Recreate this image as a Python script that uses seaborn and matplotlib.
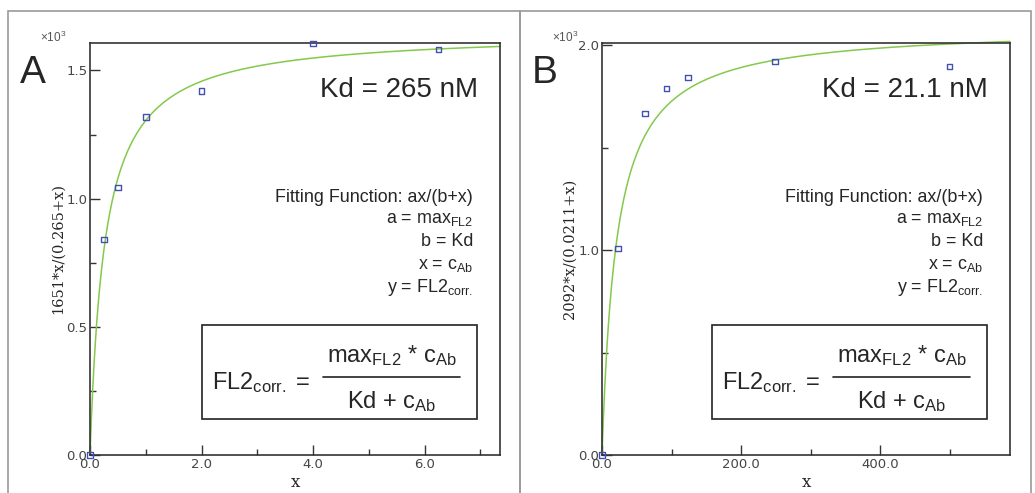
import matplotlib
matplotlib.use('Agg')
import matplotlib.pyplot as plt
import numpy as np
import pandas as pd
import seaborn as sns
from matplotlib.lines import Line2D
from matplotlib.patches import Rectangle
from matplotlib.ticker import FuncFormatter, MultipleLocator

# measured points, panel A (x in uM) and panel B (x in nM)
xa = [0.0, 0.25, 0.5, 1.0, 2.0, 4.0, 6.25]
ya = [0, 841, 1043, 1318, 1419, 1605, 1582]
xb = [0.0, 23, 61.5, 93, 124, 249, 500]
yb = [0, 1008, 1667, 1789, 1843, 1922, 1897]

# fitted parameters a = max_FL2, b = Kd (as printed on the y labels / plot)
fit_a = {'a': 1651, 'b': 0.265, 'xmax': 7.35}
fit_b = {'a': 2092, 'b': 21.1, 'xmax': 587}

ylabels = ['1651*x/(0.265+x)', '2092*x/(0.0211+x)']
kd_texts = ['Kd = 265 nM', 'Kd = 21.1 nM']
letters = ['A', 'B']

sns.set_style('white')
plt.rcParams['font.family'] = ['Liberation Sans', 'DejaVu Sans']
plt.rcParams['mathtext.fontset'] = 'custom'
plt.rcParams['mathtext.rm'] = 'Liberation Sans'
plt.rcParams['mathtext.it'] = 'Liberation Sans'

W, H = 1035, 493
fig = plt.figure(figsize=(W / 100, H / 100), dpi=100)


def fx(px):
    return px / W


def fy(py):
    return 1 - py / H


def draw_panel(left, right, xs, ys, fit, ylab, kd, letter, xmajor, xminor, ymajor, ymax, xfmt):
    ax = fig.add_axes([fx(left), fy(455), fx(right - left), 412 / H])
    xc = np.linspace(0, fit['xmax'], 600)
    curve = pd.DataFrame({'x': xc, 'y': fit['a'] * xc / (fit['b'] + xc)})
    sns.lineplot(data=curve, x='x', y='y', ax=ax, color='#84c94c', lw=1.1, clip_on=False)
    sns.scatterplot(x=xs, y=ys, ax=ax, marker='s', s=16, facecolor='none',
                    edgecolor='#4450b0', linewidth=1.0, zorder=3, clip_on=False)
    ax.set_xlim(0, fit['xmax'])
    ax.set_ylim(0, ymax)
    for s in ax.spines.values():
        s.set_color('#333333')
        s.set_linewidth(1.2)
    ax.xaxis.set_major_locator(MultipleLocator(xmajor))
    ax.xaxis.set_minor_locator(MultipleLocator(xminor))
    ax.yaxis.set_major_locator(MultipleLocator(ymajor))
    ax.yaxis.set_minor_locator(MultipleLocator(ymajor / 2))
    ax.xaxis.set_major_formatter(FuncFormatter(xfmt))
    ax.yaxis.set_major_formatter(FuncFormatter(lambda v, p: f'{v / 1000:.1f}'))
    ax.tick_params(which='both', direction='in', bottom=True, left=True,
                   color='#333333', labelsize=9.5, labelcolor='#444444', pad=2)
    ax.tick_params(which='major', length=7, width=1)
    ax.tick_params(which='minor', length=4, width=1)
    for lab in ax.get_xticklabels() + ax.get_yticklabels():
        lab.set_family(['Liberation Sans Narrow', 'DejaVu Sans'])
    ax.set_xlabel('x', family='DejaVu Serif', fontsize=12, labelpad=2)
    ax.set_ylabel(ylab, family='DejaVu Serif', fontsize=10.5, labelpad=1)

    # text annotations, in figure pixels
    off = left - 90
    fig.text(fx(off + 20), fy(73), letter, fontsize=28, va='center', ha='left')
    fig.text(fx(off + 40), fy(37), r'$\times10^3$', fontsize=8.5, color='#555555', va='center')
    fig.text(fx(right - 22), fy(90), kd, fontsize=20, ha='right', va='center')
    rx = fx(right - 27)
    fs = 12.9
    fig.text(rx, fy(197), 'Fitting Function: ax/(b+x)', fontsize=fs, ha='right', va='center')
    fig.text(rx, fy(220), r'a = max$_{\mathrm{FL2}}$', fontsize=fs, ha='right', va='center')
    fig.text(rx, fy(242), 'b = Kd', fontsize=fs, ha='right', va='center')
    fig.text(rx, fy(265), r'x = c$_{\mathrm{Ab}}$', fontsize=fs, ha='right', va='center')
    fig.text(rx, fy(287), r'y = FL2$_{\mathrm{corr.}}$', fontsize=fs, ha='right', va='center')

    bx0, bx1 = right - 298, right - 23
    fig.add_artist(Rectangle((fx(bx0), fy(419)), fx(bx1 - bx0), (419 - 325) / H,
                             transform=fig.transFigure, fill=False, ec='#222222', lw=1.2))
    fig.text(fx(bx0 + 10), fy(383), r'FL2$_{\mathrm{corr.}}$ =', fontsize=17, va='center')
    cx = fx((bx0 + 121 + bx1 - 17) / 2)
    fig.text(cx, fy(356), r'max$_{\mathrm{FL2}}$ * c$_{\mathrm{Ab}}$', fontsize=17, ha='center', va='center')
    fig.text(cx, fy(402), r'Kd + c$_{\mathrm{Ab}}$', fontsize=17, ha='center', va='center')
    fig.add_artist(Line2D([fx(bx0 + 121), fx(bx1 - 17)], [fy(377), fy(377)],
                          transform=fig.transFigure, color='#222222', lw=1.2))
    return ax


draw_panel(90, 500, xa, ya, fit_a, ylabels[0], kd_texts[0], letters[0],
           2, 1, 500, 1607, lambda v, p: f'{v:.1f}')
draw_panel(602, 1010, xb, yb, fit_b, ylabels[1], kd_texts[1], letters[1],
           200, 100, 1000, 2012, lambda v, p: f'{v:.1f}')

# panel frames
for x0, x1 in [(8, 520), (520, 1031)]:
    fig.add_artist(Rectangle((fx(x0), fy(H + 5)), fx(x1 - x0), (H + 5 - 11) / H,
                             transform=fig.transFigure, fill=False, ec='#9a9a9a', lw=1.2))

fig.savefig('out.png', dpi=100)
